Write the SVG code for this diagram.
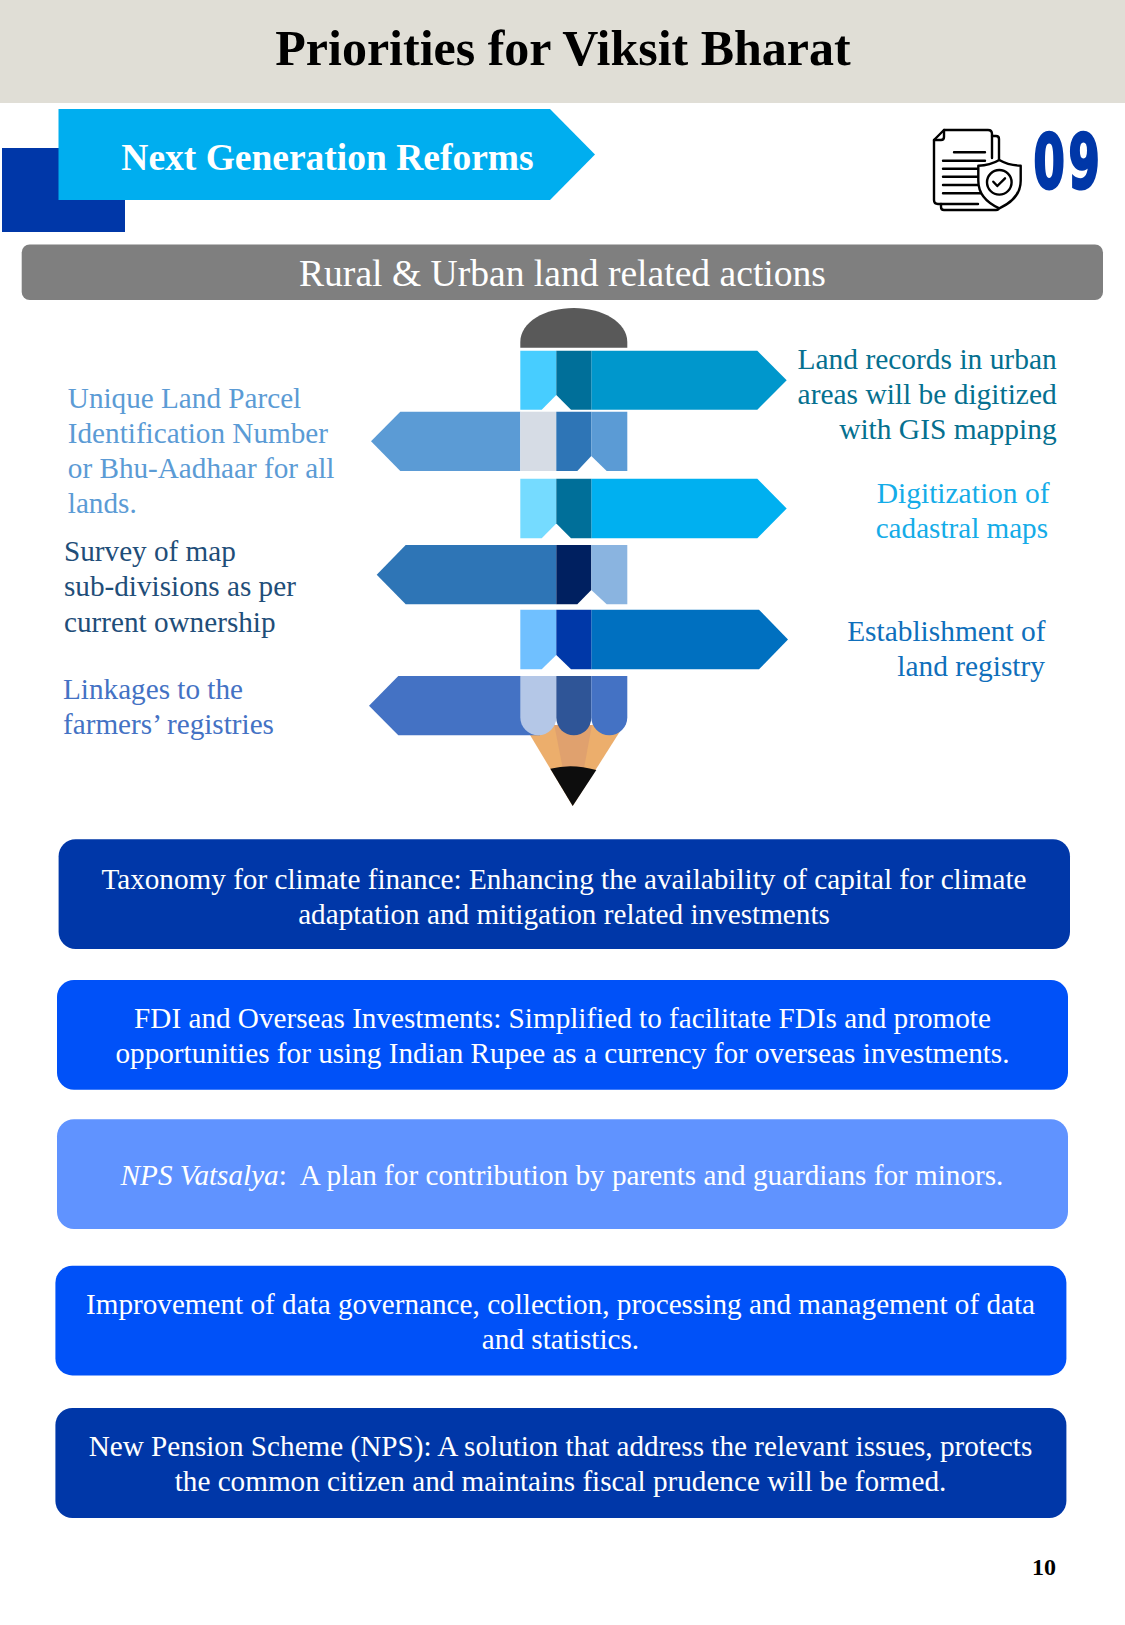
<svg xmlns="http://www.w3.org/2000/svg" width="1125" height="1625" viewBox="0 0 1125 1625">
<style>
text{font-family:"Liberation Serif","Times New Roman",serif}
.b{font-size:29.2px}
.w{fill:#fff;text-anchor:middle}
.r{text-anchor:end}
.box{stroke:none}
.ic{fill:none;stroke:#000;stroke-width:2.4;stroke-linecap:round;stroke-linejoin:round}
.num{font-size:75px;font-weight:bold;fill:#0037a8;stroke:#0037a8;stroke-width:3;stroke-linejoin:miter}
</style>
<rect width="1125" height="1625" fill="#fff"/>
<g id="header">
<rect width="1125" height="103" fill="#e0ded6"/>
<text x="563" y="65" text-anchor="middle" font-size="50" font-weight="bold">Priorities for Viksit Bharat</text>
</g>
<g id="section-tab">
<rect x="2" y="148" width="123" height="84" fill="#0037a8"/>
<path d="M58.500 109H550L595 154.500 550 200H58.500Z" fill="#00aeef"/>
<text x="327.500" y="170" text-anchor="middle" font-size="37.500" font-weight="bold" fill="#fff">Next Generation Reforms</text>
</g>
<g id="icon">
<path class="ic" d="M992 136h4q3 0 3 3v68q0 3-3 3h-52q-3 0-3-3v-3"/>
<path class="ic" d="M978 204h-40q-4 0-4-4v-60l10-10h44q4 0 4 4v24"/>
<path class="ic" d="M934 140h7q3 0 3-3v-7"/>
<path class="ic" d="M954 152.300h31M943 160.700h42M943 168.700h37M943 176.700h35M943 185h35M943 193.300h39"/>
<path d="M999.300 160c6 3.500 13 5.500 21.400 5.700v15c0 13-9 22-21.400 27.600-12.400-5.600-21-14.600-21-27.600v-15c8.400-.2 15-2.200 21-5.700Z" fill="#fff" stroke="#000" stroke-width="2.400" stroke-linejoin="round"/>
<circle class="ic" cx="999.300" cy="182.300" r="12.300"/>
<path class="ic" d="M993.300 181.700l4 4.300 7.700-7.700"/>
<text class="num" transform="translate(1033.500 187.500) scale(.6 1)" style="font-family:'DejaVu Sans',sans-serif">0</text>
<text class="num" transform="translate(1068.500 187.500) scale(.6 1)" style="font-family:'DejaVu Sans',sans-serif">9</text>
</g>
<g id="land-bar">
<rect x="21.700" y="244.500" width="1081.300" height="55.500" rx="8" fill="#7f7f7f"/>
<text x="562.500" y="286" text-anchor="middle" font-size="37.600" fill="#fff">Rural &amp; Urban land related actions</text>
</g>
<g id="pencil">
<g id="pencil-tip">
<path d="M524 725H624L572.700 806Z" fill="#ecae6c"/>
<path d="M554.300 725H592L584 768H562.700Z" fill="#e0a16e"/>
<path d="M550.300 768.700Q572 763 596.300 770L572.700 806Z" fill="#0d0d0d"/>
</g>
<path id="pencil-eraser" d="M520.300 347.700V342C520.300 322 545 308 573.800 308 602 308 627.300 322 627.300 342V347.700Z" fill="#595959"/>
<g id="row-1">
<path d="M520.300 350.700H556.300V395L541.700 409.700H520.300Z" fill="#47cdff"/>
<path d="M591.300 350.700H757.300L786.700 380.200 757.300 409.700H591.300Z" fill="#0097cc"/>
<path d="M556.300 350.700H591.300V409.700H571L556.300 395Z" fill="#006f99"/>
</g>
<g id="row-2">
<path d="M520.300 411.700H400.300L371 441.300 400.300 471H520.300Z" fill="#5b9bd5"/>
<rect x="520.300" y="411.700" width="36" height="59.300" fill="#d6dce5"/>
<path d="M556.300 411.700H591.300V456L577.300 471H556.300Z" fill="#2e75b6"/>
<path d="M591.300 411.700H627.300V471H606.700L591.300 456Z" fill="#5b9bd5"/>
</g>
<g id="row-3">
<path d="M520.300 478.700H556.300V523.500L541.700 538.300H520.300Z" fill="#75dbff"/>
<path d="M591.300 478.700H757.300L786.700 508.500 757.300 538.300H591.300Z" fill="#00b0f0"/>
<path d="M556.300 478.700H591.300V538.300H571L556.300 523.500Z" fill="#006f99"/>
</g>
<g id="row-4">
<path d="M556.300 545H405.700L376.700 574.700 405.700 604.300H556.300Z" fill="#2e75b6"/>
<path d="M556.300 545H591.300V590L577.300 604.300H556.300Z" fill="#002060"/>
<path d="M591.300 545H627.300V604.300H606.700L591.300 590Z" fill="#8ab4e0"/>
</g>
<g id="row-5">
<path d="M520.300 609.700H556.300V655L541.700 669.300H520.300Z" fill="#70c0ff"/>
<path d="M591.300 609.700H759L788 639.500 759 669.300H591.300Z" fill="#0070c0"/>
<path d="M556.300 609.700H591.300V669.300H571L556.300 655Z" fill="#0038a8"/>
</g>
<g id="row-6">
<path d="M540 676H398.300L369 705.700 398.300 735.300H540Z" fill="#4472c4"/>
<path d="M520.300 676H556.300V717.300A18 18 0 0 1 520.300 717.300Z" fill="#b4c7e7"/>
<path d="M556.300 676H591.300V717.800A17.500 17.500 0 0 1 556.300 717.800Z" fill="#2f5597"/>
<path d="M591.300 676H627.300V717.300A18 18 0 0 1 591.300 717.300Z" fill="#4472c4"/>
</g>
</g>
<g id="label-parcel" class="b" fill="#5b9bd5">
<text x="67.800" y="408.300">Unique Land Parcel</text>
<text x="67.800" y="443.200">Identification Number</text>
<text x="67.800" y="478.300">or Bhu-Aadhaar for all</text>
<text x="67.800" y="513.200">lands.</text>
</g>
<g id="label-survey" class="b" fill="#1f4e79">
<text x="64" y="561.200">Survey of map</text>
<text x="64" y="596.200">sub-divisions as per</text>
<text x="64" y="631.700">current ownership</text>
</g>
<g id="label-farmers" class="b" fill="#4472c4">
<text x="63" y="699.300">Linkages to the</text>
<text x="63" y="734.300">farmers’ registries</text>
</g>
<g id="label-records" class="r" fill="#05708f" font-size="29.450">
<text x="1056.700" y="369.300">Land records in urban</text>
<text x="1056.700" y="404.300">areas will be digitized</text>
<text x="1056.700" y="439.300">with GIS mapping</text>
</g>
<g id="label-cadastral" fill="#14ace8">
<text x="876.700" y="503.400" font-size="29.500">Digitization of</text>
<text x="875.700" y="538.400" font-size="29.150">cadastral maps</text>
</g>
<g id="label-registry" class="r" fill="#0f6fbb" font-size="29.400">
<text x="1045.500" y="641.400">Establishment of</text>
<text x="1045" y="676.400">land registry</text>
</g>
<g id="box-climate">
<rect class="box" x="58.600" y="839.300" width="1011.400" height="109.700" rx="17" fill="#0037a8"/>
<text class="b w" x="564" y="888.500">Taxonomy for climate finance: Enhancing the availability of capital for climate</text>
<text class="b w" x="564" y="924">adaptation and mitigation related investments</text>
</g>
<g id="box-fdi">
<rect class="box" x="57" y="980" width="1011" height="109.700" rx="17" fill="#0051f8"/>
<text class="b w" x="562.500" y="1028.300">FDI and Overseas Investments: Simplified to facilitate FDIs and promote</text>
<text class="b w" x="562.500" y="1063.300">opportunities for using Indian Rupee as a currency for overseas investments.</text>
</g>
<g id="box-nps-vatsalya">
<rect class="box" x="57" y="1119.300" width="1011" height="109.700" rx="17" fill="#6093ff"/>
<text class="b w" x="562" y="1185.200" xml:space="preserve"><tspan font-style="italic">NPS Vatsalya</tspan>:  A plan for contribution by parents and guardians for minors.</text>
</g>
<g id="box-data">
<rect class="box" x="55.400" y="1265.700" width="1011" height="109.700" rx="17" fill="#0051f8"/>
<text class="b w" x="560.500" y="1314">Improvement of data governance, collection, processing and management of data</text>
<text class="b w" x="560.500" y="1349.400">and statistics.</text>
</g>
<g id="box-pension">
<rect class="box" x="55.400" y="1408" width="1011" height="110" rx="17" fill="#0037a8"/>
<text class="b w" x="560.500" y="1455.800">New Pension Scheme (NPS): A solution that address the relevant issues, protects</text>
<text class="b w" x="560.500" y="1491">the common citizen and maintains fiscal prudence will be formed.</text>
</g>
<text id="page-number" x="1044" y="1574.500" text-anchor="middle" font-size="24" font-weight="bold">10</text>
</svg>
